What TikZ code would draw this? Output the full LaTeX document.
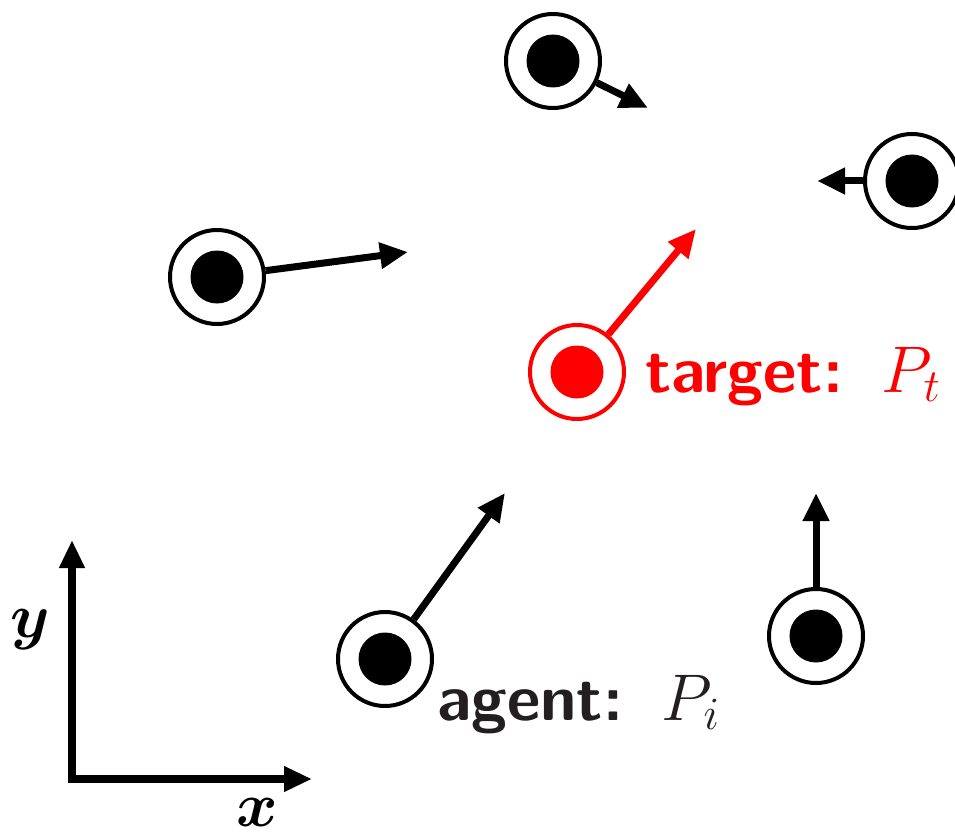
\RequirePackage{fix-cm}
\documentclass[tikz,border=0pt]{standalone}
\usepackage{amsmath,bm}
\usetikzlibrary{arrows.meta}
\definecolor{ink}{HTML}{231F20}
\tikzset{
  agent/.style={circle, draw=#1, line width=4pt, minimum size=94pt, inner sep=0pt,
    path picture={\fill[#1] (path picture bounding box.center) circle (26.5pt);}},
  agent/.default=black,
  vel/.style={line width=7pt, -{Triangle[length=28pt,width=25pt]}},
  axis/.style={line width=8pt, -{Triangle[length=28pt,width=24pt]}},
  lbl/.style={font=\fontsize{65}{72}\selectfont\sffamily\bfseries, inner sep=0pt},
  mlbl/.style={font=\fontsize{63}{70}\selectfont, inner sep=0pt}
}
\newcommand{\mathlbl}[1]{{\fontsize{66}{72}\selectfont$#1$}}
\begin{document}
\begin{tikzpicture}[x=1pt,y=-1pt]
\useasboundingbox (0,0) rectangle (955,837);
\clip (0,0) rectangle (955,837);
% agents
\node[agent] (a1) at (553,61) {};
\node[agent] (a2) at (912,181) {};
\node[agent] (a3) at (217,277) {};
\node[agent=red] (t) at (577,372) {};
\node[agent] (a4) at (385,659) {};
\node[agent] (a5) at (816,636) {};
% velocity tips
\coordinate (v1) at (648,108);
\coordinate (v2) at (817,181);
\coordinate (v3) at (408,252);
\coordinate (vt) at (696,229);
\coordinate (v4) at (505,493);
\coordinate (v5) at (816,493);
\draw[vel] (a1) -- (v1);
\draw[vel] (a2) -- (v2);
\draw[vel] (a3) -- (v3);
\draw[vel, red] (t) -- (vt);
\draw[vel] (a4) -- (v4);
\draw[vel] (a5.north) -- (v5);
% labels
\node[lbl, text=red, anchor=base west] (tl) at (645,392) {target:\hspace{0.6em}\mathlbl{P_t}};
\node[lbl, text=ink, anchor=base west] (al) at (437,720) {agent:\hspace{0.6em}\mathlbl{P_i}};
% axes
\coordinate (o) at (72,779);
\coordinate (ytip) at (72,540);
\coordinate (xtip) at (312,779);
\draw[axis] ([yshift=-4pt]o) -- (ytip);
\draw[axis] ([xshift=-4pt]o) -- (xtip);
\node[mlbl] (ylab) at (30,630) {$\bm{y}$};
\node[mlbl] (xlab) at (257,812) {$\bm{x}$};
\end{tikzpicture}
\end{document}
